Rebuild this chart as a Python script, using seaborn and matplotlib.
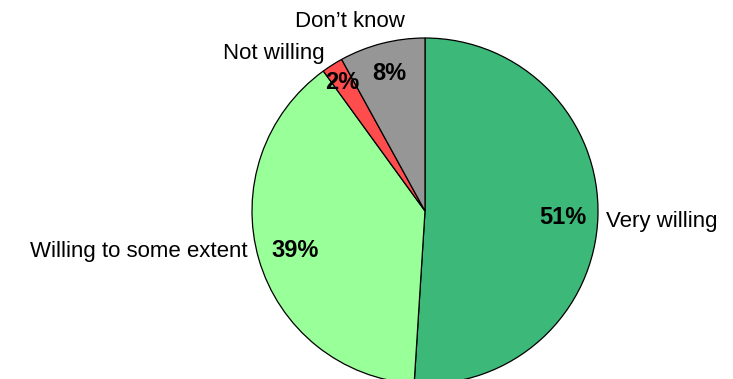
import numpy as np
import matplotlib
matplotlib.use("Agg")
import matplotlib.pyplot as plt
import seaborn as sns

sns.set_theme(style="white")
plt.rcParams["font.family"] = ["Liberation Sans", "DejaVu Sans"]

categories = ["Very willing", "Willing to some extent", "Not willing", "Don\u2019t know"]
shares = [51, 39, 2, 8]
colors = ["#3CB878", "#99FF99", "#FF4D4D", "#969696"]

# label placement per slice: radius for %, radius for name, name angle shift, name alignment
pct_radius = [0.80, 0.78, 0.89, 0.83]
name_radius = [1.05, 1.05, 1.27, 1.19]
name_shift = [-1.0, -3.8, 11.0, 7.0]
name_ha = ["left", "right", "center", "center"]

fig = plt.figure(figsize=(7.33, 3.79), dpi=100)
W, H = 733, 379
cx, cy, r = 425, 211, 173
ax = fig.add_axes([(cx - r) / W, (H - cy - r) / H, 2 * r / W, 2 * r / H])

wedges, _ = ax.pie(shares, colors=colors, startangle=90, counterclock=False,
                   radius=1.0, wedgeprops=dict(edgecolor="black", linewidth=0.9))
ax.set_xlim(-1, 1)
ax.set_ylim(-1, 1)
ax.set_aspect("equal")
ax.axis("off")
for w in wedges:
    w.set_clip_on(False)

for i, w in enumerate(wedges):
    mid = np.deg2rad((w.theta1 + w.theta2) / 2)
    ax.text(pct_radius[i] * np.cos(mid), pct_radius[i] * np.sin(mid) - 0.01, f"{shares[i]}%",
            ha="center", va="center", fontsize=17, fontweight="bold", color="black")
    a = mid + np.deg2rad(name_shift[i])
    ax.text(name_radius[i] * np.cos(a), name_radius[i] * np.sin(a) - 0.01, categories[i],
            ha=name_ha[i], va="center", fontsize=16, color="black", clip_on=False)

fig.savefig("out.png", dpi=100)
